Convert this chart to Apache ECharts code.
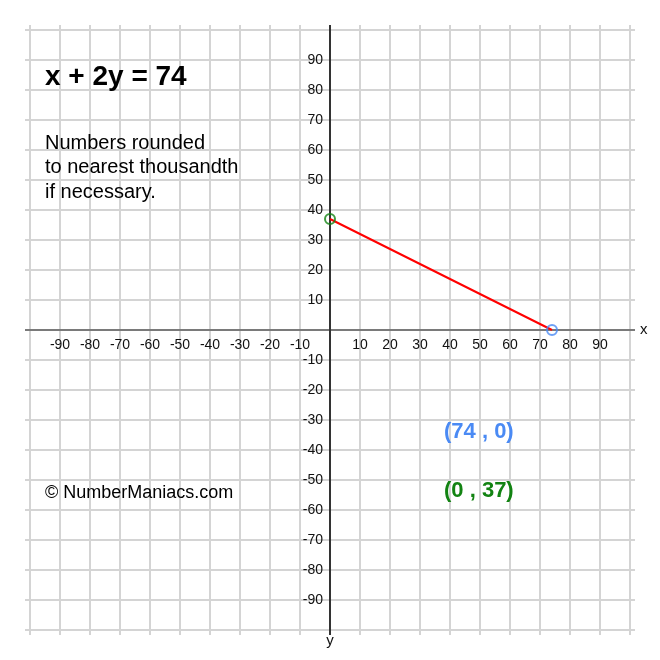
<!DOCTYPE html>
<html><head><meta charset="utf-8">
<script src="https://cdn.jsdelivr.net/npm/echarts@6.0.0/dist/echarts.min.js"></script>
<style>html,body{margin:0;padding:0;background:#fff}#c{width:660px;height:660px}</style>
</head><body><div id="c"></div>
<script>
// ---- data ----
const equationText = 'x + 2y = 74';
const noteLines = ['Numbers rounded', 'to nearest thousandth', 'if necessary.'];
const creditText = '\u00A9 NumberManiacs.com';
const pointX = [74, 0];
const pointY = [0, 37];
const pointColors = ['#4a8af4', '#128312'];
const axisMin = -100, axisMax = 100, axisStep = 10;
const hiddenTickValues = [0, -100, 100];

// ---- chart ----
const FONT = '"Liberation Sans", Arial, Helvetica, sans-serif';
const gridColor = '#d4d4d4';
const GRID_SIZE = 600;
const chart = echarts.init(document.getElementById('c'), null, {renderer: 'canvas'});

const linePoints = pointX.map((x, i) => [x, pointY[i]]).sort((a, b) => a[0] - b[0]);
const pointLabels = pointX.map((x, i) => '(' + x + ' , ' + pointY[i] + ')');

function fmt(v) { return hiddenTickValues.indexOf(v) >= 0 ? '' : String(v); }

function extAxis(pos, withSplit) {
  return {
    type: 'value', position: pos, min: axisMin, max: axisMax, interval: axisStep,
    axisLine: {show: false, onZero: false},
    axisTick: {show: true, inside: false, length: 5, lineStyle: {color: gridColor, width: 2}},
    axisLabel: {show: false},
    splitLine: {show: !!withSplit, lineStyle: {color: gridColor, width: 2}},
    z: 1
  };
}

function txt(x, y, text, font, fill) {
  return {type: 'text', x: x, y: y, z: 100, style: {text: text, fill: fill, font: font + ' ' + FONT, verticalAlign: 'middle'}};
}

const option = {
  backgroundColor: '#fff',
  animation: false,
  grid: {left: 30, top: 30, width: GRID_SIZE, height: GRID_SIZE, containLabel: false},
  xAxis: [
    {
      type: 'value', position: 'bottom', offset: -GRID_SIZE / 2, min: axisMin, max: axisMax, interval: axisStep,
      name: 'x', nameLocation: 'end', nameGap: 10,
      nameTextStyle: {color: '#111', fontSize: 15, fontFamily: FONT, verticalAlign: 'middle'},
      axisLine: {show: true, onZero: false,
        symbol: ['rect', 'rect'], symbolSize: [2, 10],
        lineStyle: {color: '#7a7a7a', width: 2}},
      axisTick: {show: false},
      axisLabel: {show: true, interval: 0, margin: 8, color: '#111', fontSize: 14, fontFamily: FONT, formatter: fmt},
      splitLine: {show: false},
      z: 3
    },
    extAxis('top', true),
    extAxis('bottom', false)
  ],
  yAxis: [
    {
      type: 'value', position: 'left', offset: -GRID_SIZE / 2, min: axisMin, max: axisMax, interval: axisStep,
      name: 'y', nameLocation: 'start', nameGap: 3,
      nameTextStyle: {color: '#111', fontSize: 15, fontFamily: FONT, align: 'center', verticalAlign: 'top'},
      axisLine: {show: true, onZero: false,
        symbol: ['rect', 'rect'], symbolSize: [2, 10],
        lineStyle: {color: '#333', width: 2}},
      axisTick: {show: false},
      axisLabel: {show: true, interval: 0, margin: 7, color: '#111', fontSize: 14, fontFamily: FONT, formatter: fmt},
      splitLine: {show: false},
      z: 4
    },
    extAxis('left', true),
    extAxis('right', false)
  ],
  series: [
    {
      type: 'line', xAxisIndex: 0, yAxisIndex: 0, data: linePoints,
      showSymbol: false, lineStyle: {color: '#ff0000', width: 2}, z: 5, silent: true
    },
    {
      type: 'scatter', xAxisIndex: 0, yAxisIndex: 0,
      data: pointX.map((x, i) => ({value: [x, pointY[i]],
        itemStyle: {color: 'rgba(0,0,0,0)', borderColor: pointColors[i], borderWidth: 2}})),
      symbol: 'circle', symbolSize: 10, z: 6, silent: true
    }
  ],
  graphic: [
    txt(45, 77, equationText, 'bold 28px', '#000'),
    txt(45, 143, noteLines[0], '20px', '#000'),
    txt(45, 167.5, noteLines[1], '20px', '#000'),
    txt(45, 192, noteLines[2], '20px', '#000'),
    txt(45, 493.5, creditText, '18px', '#000'),
    txt(444, 432, pointLabels[0], 'bold 22px', pointColors[0]),
    txt(444, 491, pointLabels[1], 'bold 22px', pointColors[1])
  ]
};
chart.setOption(option);
</script>
</body></html>
